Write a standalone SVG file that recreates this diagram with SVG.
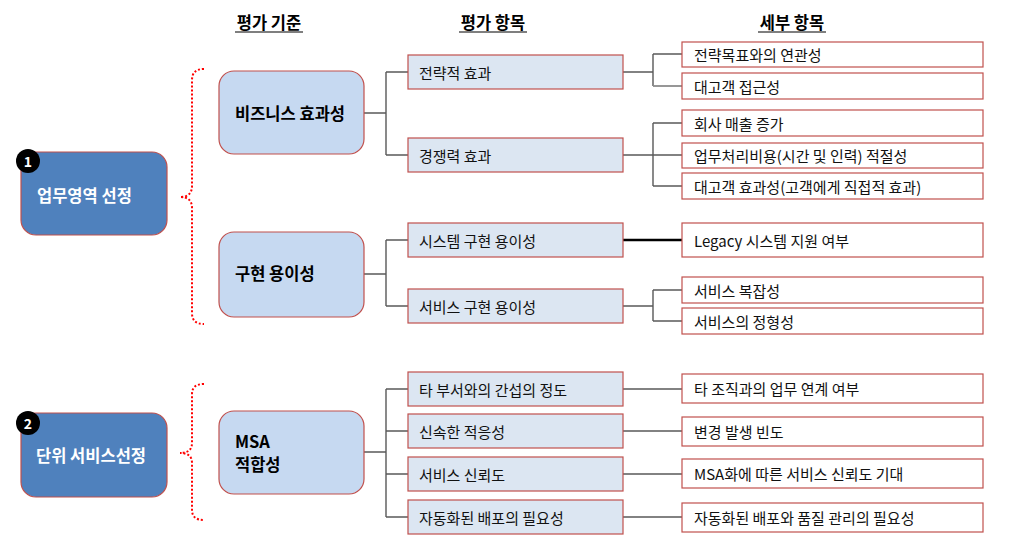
<svg xmlns="http://www.w3.org/2000/svg" width="1009" height="542" viewBox="0 0 1009 542">
<style>
text{font-family:"Noto Sans CJK KR","Noto Sans",sans-serif;}
.area{fill:#4F81BD;stroke:#C0504D;stroke-width:1.2;}
.crit{fill:#C6D9F1;stroke:#C0504D;stroke-width:1.2;}
.item{fill:#DCE6F2;stroke:#C0504D;stroke-width:1.2;}
.det{fill:#FFFFFF;stroke:#C0504D;stroke-width:1.2;}
.at{font-size:16.5px;font-weight:bold;fill:#FFFFFF;}
.ct{font-size:16.5px;font-weight:bold;fill:#000;}
.it{font-size:15px;fill:#111;}
.num{font-size:14px;font-weight:bold;fill:#fff;}
.ln{stroke:#595959;stroke-width:1.4;fill:none;}
.ln2{stroke:#8C8C8C;stroke-width:1.8;fill:none;}
.brace{stroke:#FF0000;stroke-width:2;stroke-dasharray:2 2;fill:none;}
.hd{font-size:16.5px;font-weight:bold;fill:#000;}
</style>
<g id="headers">
<line x1="235" y1="32" x2="303" y2="32" stroke="#000" stroke-width="1.2"/>
<line x1="459" y1="32" x2="527" y2="32" stroke="#000" stroke-width="1.2"/>
<line x1="758" y1="32" x2="826" y2="32" stroke="#000" stroke-width="1.2"/>
<text class="hd" x="269" y="22" text-anchor="middle" dominant-baseline="central">평가 기준</text>
<text class="hd" x="493" y="22" text-anchor="middle" dominant-baseline="central">평가 항목</text>
<text class="hd" x="792" y="22" text-anchor="middle" dominant-baseline="central">세부 항목</text>
</g>
<g id="connectors">
<path class="brace" d="M204,69 Q192,69 192,80 L192,186 Q192,197 180,197 Q192,197 192,208 L192,313 Q192,324 204,324"/>
<path class="brace" d="M204,384 Q192,384 192,394 L192,443 Q192,453 180,453 Q192,453 192,463 L192,510 Q192,520 204,520"/>
<path class="ln" d="M364,113 H386 M386,72 V155 M386,72 H408 M386,155 H408"/>
<path class="ln" d="M623,72 H653 M653,54 V86 M653,54 H682"/>
<path class="ln2" d="M653,86 H682"/>
<path class="ln" d="M623,155 H682 M653,123 V186 M653,123 H682 M653,186 H682"/>
<path class="ln" d="M364,274 H386 M386,240 V306 M386,240 H408 M386,306 H408"/>
<line x1="623" y1="240" x2="682" y2="240" stroke="#000" stroke-width="2.5"/>
<path class="ln" d="M623,306 H653 M653,290 V321 M653,290 H682 M653,321 H682"/>
<path class="ln" d="M364,452 H386 M386,389 V517 M386,389 H408 M386,431 H408 M386,474 H408 M386,517 H408"/>
<path class="ln" d="M623,389 H682 M623,431 H682 M623,474 H682 M623,517 H682"/>
</g>
<g id="area1">
<rect class="area" x="21" y="152" width="146" height="83" rx="15"/>
<circle cx="28" cy="161" r="12" fill="#000"/>
<text class="num" x="28" y="161" text-anchor="middle" dominant-baseline="central">1</text>
<text class="at" x="37" y="195" dominant-baseline="central">업무영역 선정</text>
</g>
<g id="area2">
<rect class="area" x="21" y="413" width="146" height="84" rx="15"/>
<circle cx="28" cy="423" r="12" fill="#000"/>
<text class="num" x="28" y="423" text-anchor="middle" dominant-baseline="central">2</text>
<text class="at" x="36" y="455" dominant-baseline="central">단위 서비스선정</text>
</g>
<g id="crit1">
<rect class="crit" x="219" y="71" width="145" height="83" rx="15"/>
<text class="ct" x="235" y="113" dominant-baseline="central">비즈니스 효과성</text>
</g>
<g id="crit2">
<rect class="crit" x="219" y="232" width="145" height="85" rx="15"/>
<text class="ct" x="235" y="273" dominant-baseline="central">구현 용이성</text>
</g>
<g id="crit3">
<rect class="crit" x="219" y="411" width="145" height="83" rx="15"/>
<text class="ct" x="235" y="441" dominant-baseline="central">MSA</text>
<text class="ct" x="235" y="464" dominant-baseline="central">적합성</text>
</g>
<g id="item1"><rect class="item" x="408" y="55" width="215" height="34"/><text class="it" x="419" y="72" dominant-baseline="central">전략적 효과</text></g>
<g id="item2"><rect class="item" x="408" y="138" width="215" height="34"/><text class="it" x="419" y="155" dominant-baseline="central">경쟁력 효과</text></g>
<g id="item3"><rect class="item" x="408" y="223" width="215" height="34"/><text class="it" x="419" y="240" dominant-baseline="central">시스템 구현 용이성</text></g>
<g id="item4"><rect class="item" x="408" y="289" width="215" height="34"/><text class="it" x="419" y="306" dominant-baseline="central">서비스 구현 용이성</text></g>
<g id="item5"><rect class="item" x="408" y="372" width="215" height="34"/><text class="it" x="419" y="389" dominant-baseline="central">타 부서와의 간섭의 정도</text></g>
<g id="item6"><rect class="item" x="408" y="414" width="215" height="34"/><text class="it" x="419" y="431" dominant-baseline="central">신속한 적응성</text></g>
<g id="item7"><rect class="item" x="408" y="457" width="215" height="34"/><text class="it" x="419" y="474" dominant-baseline="central">서비스 신뢰도</text></g>
<g id="item8"><rect class="item" x="408" y="500" width="215" height="34"/><text class="it" x="419" y="517" dominant-baseline="central">자동화된 배포의 필요성</text></g>
<g id="det1"><rect class="det" x="682" y="42" width="301" height="25"/><text class="it" x="694" y="54.5" dominant-baseline="central">전략목표와의 연관성</text></g>
<g id="det2"><rect class="det" x="682" y="73" width="301" height="26"/><text class="it" x="694" y="86" dominant-baseline="central">대고객 접근성</text></g>
<g id="det3"><rect class="det" x="682" y="110" width="301" height="26"/><text class="it" x="694" y="123" dominant-baseline="central">회사 매출 증가</text></g>
<g id="det4"><rect class="det" x="682" y="143" width="301" height="25"/><text class="it" x="694" y="155.5" dominant-baseline="central">업무처리비용(시간 및 인력) 적절성</text></g>
<g id="det5"><rect class="det" x="682" y="173" width="301" height="26"/><text class="it" x="694" y="186" dominant-baseline="central">대고객 효과성(고객에게 직접적 효과)</text></g>
<g id="det6"><rect class="det" x="682" y="223" width="301" height="34"/><text class="it" x="694" y="240" dominant-baseline="central">Legacy 시스템 지원 여부</text></g>
<g id="det7"><rect class="det" x="682" y="277" width="301" height="26"/><text class="it" x="694" y="290" dominant-baseline="central">서비스 복잡성</text></g>
<g id="det8"><rect class="det" x="682" y="308" width="301" height="26"/><text class="it" x="694" y="321" dominant-baseline="central">서비스의 정형성</text></g>
<g id="det9"><rect class="det" x="682" y="374" width="301" height="29"/><text class="it" x="694" y="388.5" dominant-baseline="central">타 조직과의 업무 연계 여부</text></g>
<g id="det10"><rect class="det" x="682" y="417" width="301" height="29"/><text class="it" x="694" y="431.5" dominant-baseline="central">변경 발생 빈도</text></g>
<g id="det11"><rect class="det" x="682" y="459" width="301" height="29"/><text class="it" x="694" y="473.5" dominant-baseline="central">MSA화에 따른 서비스 신뢰도 기대</text></g>
<g id="det12"><rect class="det" x="682" y="503" width="301" height="29"/><text class="it" x="694" y="517.5" dominant-baseline="central">자동화된 배포와 품질 관리의 필요성</text></g>
</svg>
